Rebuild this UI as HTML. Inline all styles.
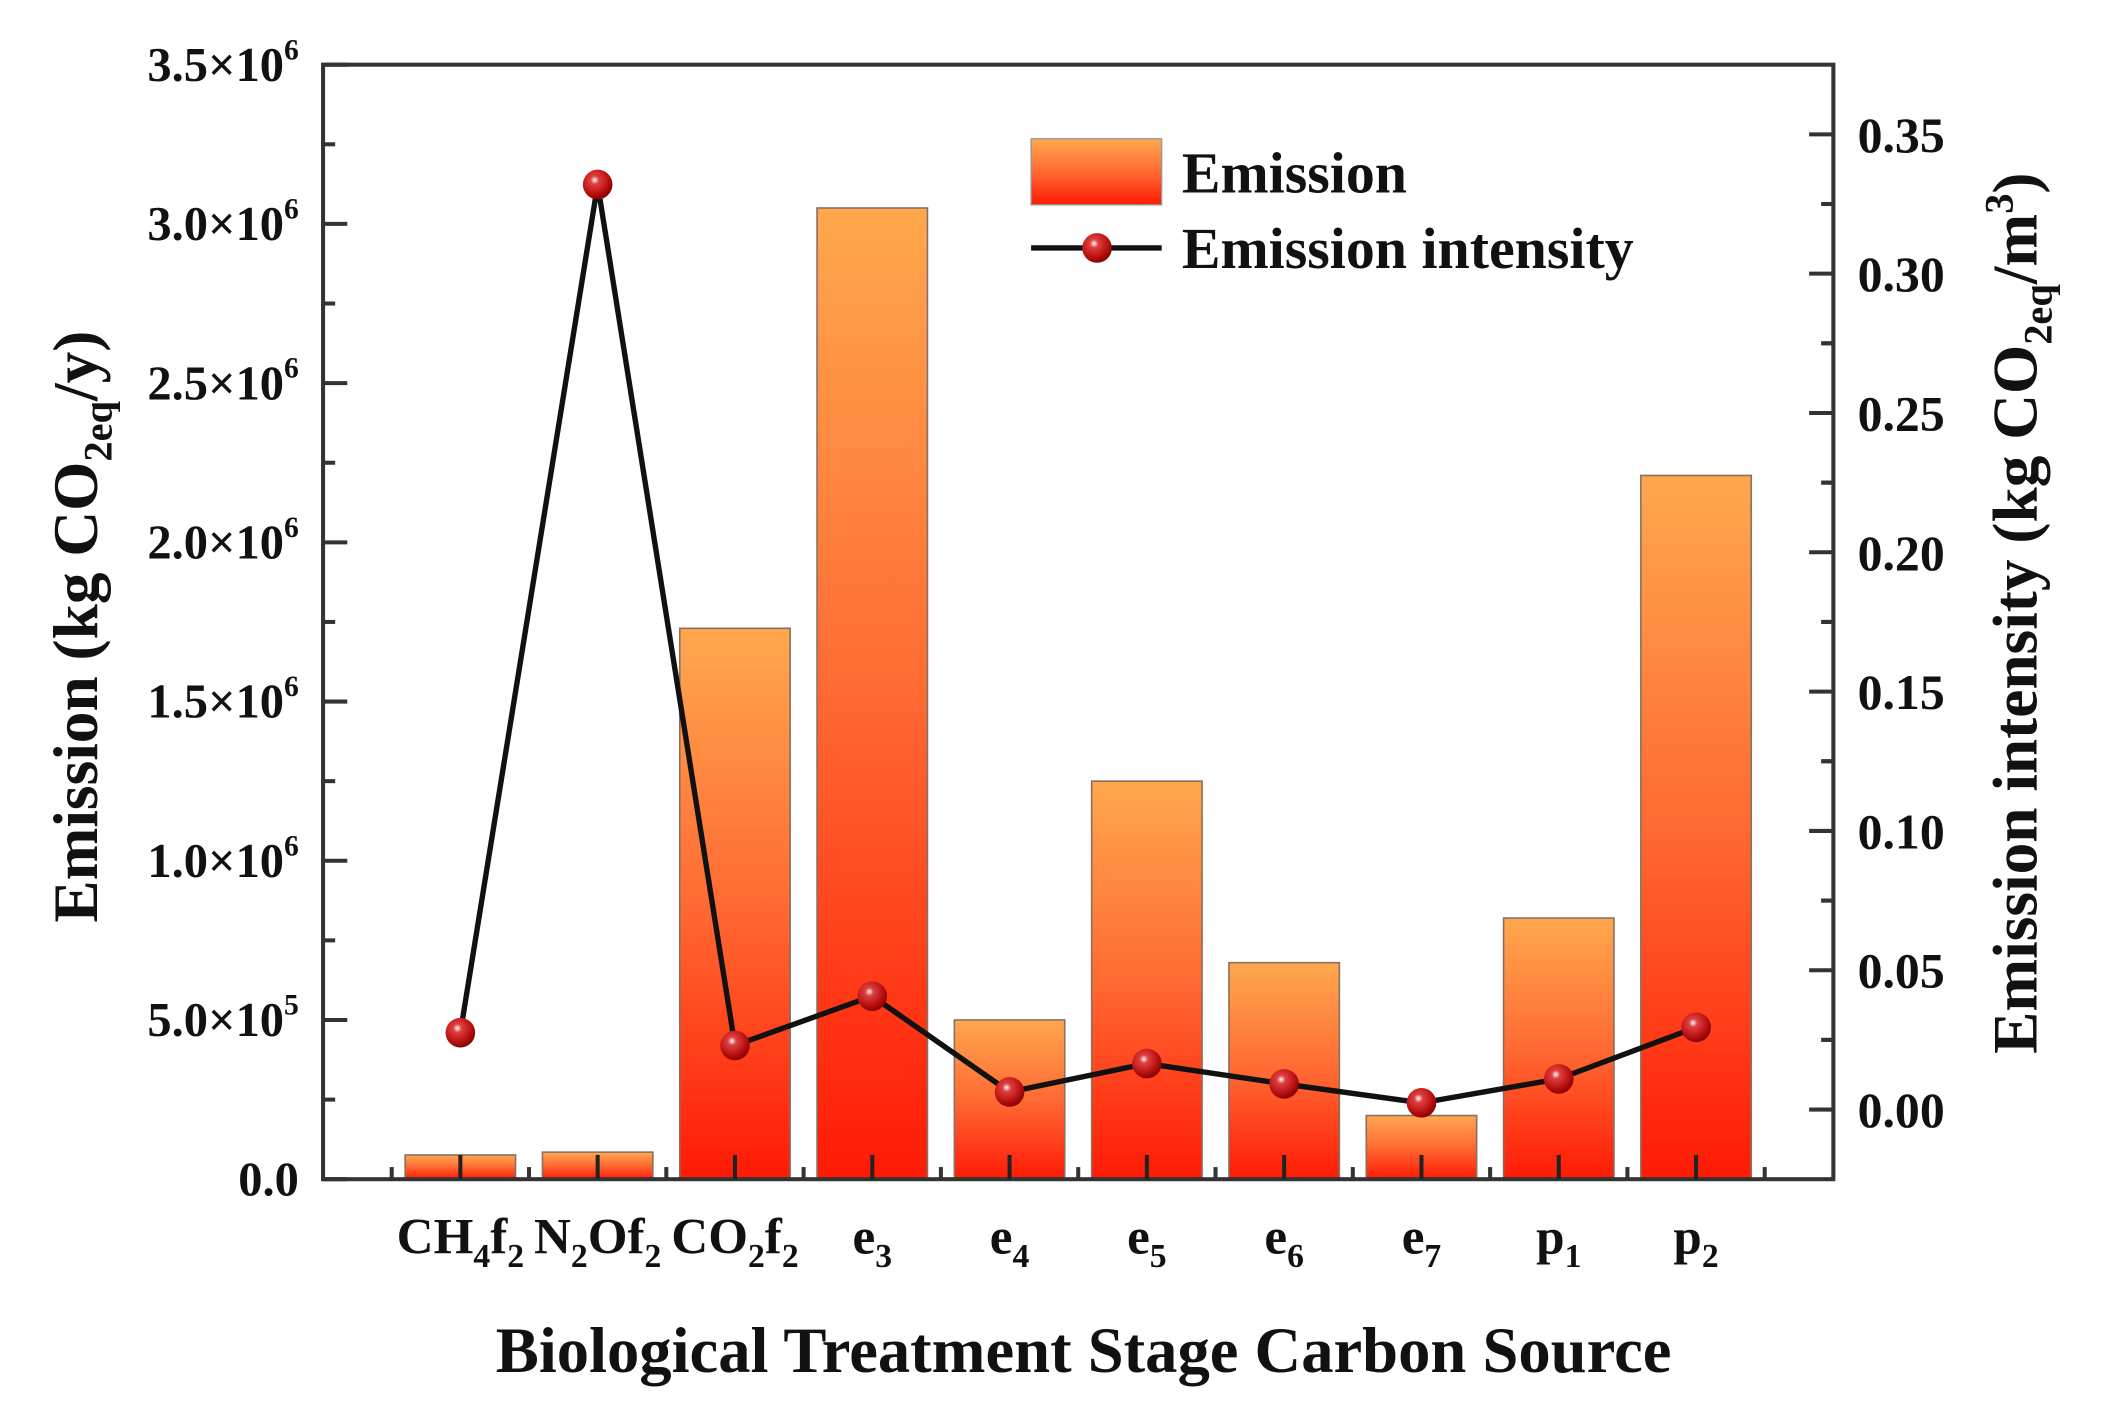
<!DOCTYPE html>
<html><head><meta charset="utf-8"><style>
html,body{margin:0;padding:0;background:#fff}
svg{display:block}
text{font-family:"Liberation Serif",serif;font-weight:bold;fill:#111}
</style></head><body>
<svg id="chart" width="2112" height="1411" viewBox="0 0 1569 1047" preserveAspectRatio="none" xmlns="http://www.w3.org/2000/svg">
<defs>
<linearGradient id="barGrad" x1="0" y1="0" x2="0" y2="1">
<stop offset="0" stop-color="#FFA84E"/><stop offset="0.5" stop-color="#FF6A33"/><stop offset="1" stop-color="#FF1A05"/>
</linearGradient>
<radialGradient id="ballGrad" cx="0.4" cy="0.35" r="0.7">
<stop offset="0" stop-color="#ffffff"/><stop offset="0.2" stop-color="#e04040"/><stop offset="0.7" stop-color="#b50d0d"/><stop offset="1" stop-color="#7a0000"/>
</radialGradient>
</defs>
<g id="bars"></g>
<g id="axes"></g>
<g id="line"></g>
<g id="labels"></g>
<g>
<rect x="766" y="103" width="97" height="49" fill="url(#barGrad)" stroke="#999" stroke-width="1"/>
<text x="878" y="143" font-size="43">Emission</text>
<line x1="766" y1="184" x2="863" y2="184" stroke="#111" stroke-width="4"/>
<circle cx="815" cy="184" r="11" fill="url(#ballGrad)"/>
<text x="878" y="199" font-size="43">Emission intensity</text>
</g>
<text x="805" y="1018" font-size="48" text-anchor="middle">Biological Treatment Stage Carbon Source</text>
<text transform="translate(72,465) rotate(-90)" font-size="47" text-anchor="middle">Emission (kg CO<tspan font-size="30" dy="11">2eq</tspan><tspan dy="-11">/y)</tspan></text>
<text transform="translate(1513,455) rotate(-90)" font-size="47" text-anchor="middle">Emission intensity (kg CO<tspan font-size="30" dy="11">2eq</tspan><tspan dy="-11">/m</tspan><tspan font-size="30" dy="-18">3</tspan><tspan dy="18">)</tspan></text>
</svg>
<script>
const categories = ["CH4f2","N2Of2","CO2f2","e3","e4","e5","e6","e7","p1","p2"];
const emission = [76000, 85000, 1730000, 3050000, 500000, 1250000, 680000, 200000, 820000, 2210000];
const intensity = [0.0276, 0.332, 0.023, 0.0407, 0.0063, 0.0165, 0.0092, 0.0024, 0.011, 0.0295];
const yTicks = [0, 500000, 1000000, 1500000, 2000000, 2500000, 3000000, 3500000];
const yTickLabels = [["0.0",""],["5.0×10","5"],["1.0×10","6"],["1.5×10","6"],["2.0×10","6"],["2.5×10","6"],["3.0×10","6"],["3.5×10","6"]];
const y2Ticks = [0, 0.05, 0.10, 0.15, 0.20, 0.25, 0.30, 0.35];
const y2TickLabels = ["0.00","0.05","0.10","0.15","0.20","0.25","0.30","0.35"];

const NS="http://www.w3.org/2000/svg";
const L=240,R=1362,T=48,B=875;
function x(i){return L+(i+1)*(R-L)/11;}
function y(v){return B-(v/3500000)*(B-T);}
function y2(v){return B-((v+0.025)/0.4)*(B-T);}
function mk(tag,attrs,parent){const e=document.createElementNS(NS,tag);for(const k in attrs)e.setAttribute(k,attrs[k]);parent.appendChild(e);return e;}
const gb=document.getElementById('bars'),ga=document.getElementById('axes'),gl=document.getElementById('line'),gt=document.getElementById('labels');
const bw=82;
emission.forEach((v,i)=>{
  const r=mk('rect',{x:x(i)-bw/2,y:y(v),width:bw,height:B-y(v),fill:'url(#barGrad)',stroke:'#8a7060','stroke-width':1.2},gb);
  
  
});
const fr=mk('rect',{x:L,y:T,width:R-L,height:B-T,fill:'none',stroke:'#333','stroke-width':3},ga);


for(let k=0;k<yTicks.length;k++){
  const yy=y(yTicks[k]);
  const t=mk('line',{x1:L,x2:L+18,y1:yy,y2:yy,stroke:'#333','stroke-width':3},ga);
  
  
  if(k<yTicks.length-1){const ym=y((yTicks[k]+yTicks[k+1])/2);mk('line',{x1:L,x2:L+9,y1:ym,y2:ym,stroke:'#333','stroke-width':3},ga);}
  const tx=mk('text',{x:222,y:yy+12,'font-size':36,'text-anchor':'end'},gt);
  
  
  tx.textContent=yTickLabels[k][0];
  if(yTickLabels[k][1]){const s=document.createElementNS(NS,'tspan');s.setAttribute('font-size','22');s.setAttribute('dy','-16');s.textContent=yTickLabels[k][1];tx.appendChild(s);}
}
for(let k=0;k<y2Ticks.length;k++){
  const yy=y2(y2Ticks[k]);
  const t=mk('line',{x1:R,x2:R-18,y1:yy,y2:yy,stroke:'#333','stroke-width':3},ga);
  
  
  [y2Ticks[k]-0.025,y2Ticks[k]+0.025].forEach(m=>{if(m>-0.025&&m<0.375){const ym=y2(m);mk('line',{x1:R,x2:R-9,y1:ym,y2:ym,stroke:'#333','stroke-width':3},ga);}});
  const tx=mk('text',{x:1380,y:yy+13,'font-size':37},gt);
  
  
  tx.textContent=y2TickLabels[k];
}
for(let i=0;i<categories.length;i++){
  const t=mk('line',{x1:x(i),x2:x(i),y1:B,y2:B-18,stroke:'#222','stroke-width':3},ga);
  
  
}
for(let i=-1;i<categories.length;i++){const xm=(x(i)+x(i+1))/2;mk('line',{x1:xm,x2:xm,y1:B,y2:B-9,stroke:'#333','stroke-width':3},ga);}
function xlabel(i,parts){
  const tx=mk('text',{x:x(i),y:930,'font-size':38,'text-anchor':'middle'},gt);
  
  
  let prevSub=false;
  parts.forEach(p=>{const s=document.createElementNS(NS,'tspan');s.textContent=p[0];
    if(p[1]){s.setAttribute('font-size','25');s.setAttribute('dy','10');prevSub=true;}
    else{s.setAttribute('dy',prevSub?'-10':'0');prevSub=false;}
    tx.appendChild(s);});
}
xlabel(0,[["CH"],["4",1],["f"],["2",1]]);
xlabel(1,[["N"],["2",1],["Of"],["2",1]]);
xlabel(2,[["CO"],["2",1],["f"],["2",1]]);
xlabel(3,[["e"],["3",1]]);xlabel(4,[["e"],["4",1]]);xlabel(5,[["e"],["5",1]]);
xlabel(6,[["e"],["6",1]]);xlabel(7,[["e"],["7",1]]);xlabel(8,[["p"],["1",1]]);xlabel(9,[["p"],["2",1]]);
const pts=intensity.map((v,i)=>x(i)+','+y2(v)).join(' ');
const pl=mk('polyline',{points:pts,fill:'none',stroke:'#111','stroke-width':4,'stroke-linejoin':'round'},gl);


intensity.forEach((v,i)=>{
  const c=mk('circle',{cx:x(i),cy:y2(v),r:11,fill:'url(#ballGrad)'},gl);
  
  
});
</script>
</body></html>
